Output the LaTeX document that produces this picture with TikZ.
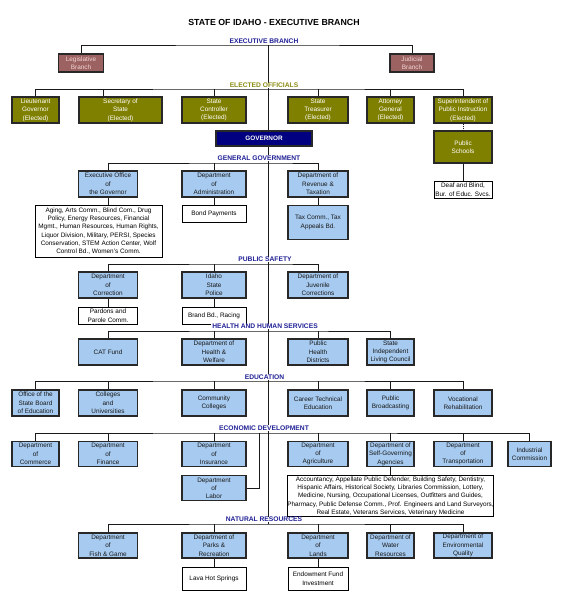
\documentclass[tikz,border=0pt]{standalone}
\usepackage{fontspec}
\setmainfont{Liberation Sans}
\usetikzlibrary{positioning}

\definecolor{deptblue}{RGB}{166,202,240}
\definecolor{electolive}{RGB}{128,128,0}
\definecolor{rosy}{RGB}{156,98,98}
\definecolor{rosytext}{RGB}{245,214,214}
\definecolor{govnavy}{RGB}{0,0,128}
\definecolor{hdrblue}{RGB}{32,32,150}
\definecolor{hdrolive}{RGB}{140,140,20}
\definecolor{boxline}{RGB}{40,40,40}

\tikzset{
  sz/.style 2 args={minimum width=#1pt, minimum height=#2pt},
  box/.style={draw=boxline, line width=1.3pt, align=center, inner sep=0pt,
    font=\fontsize{6.4}{8.4}\selectfont},
  dept/.style={box, fill=deptblue, text=black!90},
  elect/.style={box, fill=electolive, text=white},
  branch/.style={box, fill=rosy, text=rosytext},
  gov/.style={box, fill=govnavy, text=white, font=\bfseries\fontsize{6.4}{8.4}\selectfont},
  sub/.style={draw=black, line width=1pt, fill=white, align=center, inner sep=0pt,
    font=\fontsize{6.4}{8.3}\selectfont},
  hdr/.style={fill=white, inner xsep=1pt, inner ysep=0.3pt, text=hdrblue,
    font=\bfseries\fontsize{6.7}{8}\selectfont},
  link/.style={line width=0.8pt, draw=black!90},
}

\begin{document}
\begin{tikzpicture}[x=1pt, y=-1pt]
    \useasboundingbox (0,0) rectangle (561,600);

    \node[font=\bfseries\fontsize{8.8}{10}\selectfont] (title) at (274,22) {STATE OF IDAHO - EXECUTIVE BRANCH};

    \node[branch, sz={45}{18}] (leg) at (81,63) {Legislative\\Branch};
    \node[branch, sz={44}{18}] (jud) at (412,63) {Judicial\\Branch};

    % elected officials
    \node[elect, sz={47}{26}] (ltg) at (35.5,110) {Lieutenant\\Governor\\(Elected)};
    \node[elect, sz={83}{26}] (sos) at (120.5,110) {Secretary of\\State\\(Elected)};
    \node[elect, sz={64}{26}] (ctl) at (214,110) {State\\Controller\\(Elected)};
    \node[elect, sz={60}{26}] (trs) at (318,110) {State\\Treasurer\\(Elected)};
    \node[elect, sz={47}{26}] (ag) at (390.5,110) {Attorney\\General\\(Elected)};
    \node[elect, sz={58}{26}] (sup) at (463,110) {Superintendent of\\Public Instruction\\(Elected)};

    \node[gov, sz={96}{15}] (gov) at (264,138.5) {GOVERNOR};
    \node[elect, sz={58}{32}] (pubs) at (463,147) {Public\\Schools};
    \node[sub, sz={58}{17}, below=17pt of pubs] (deaf) {Deaf and Blind,\\Bur. of Educ. Svcs.};

    % general government
    \node[dept, sz={59}{26}] (eog) at (108,184) {Executive Office\\of\\the Governor};
    \node[dept, sz={64}{26}] (adm) at (214,184) {Department\\of\\Administration};
    \node[dept, sz={60}{26}] (rev) at (318,184) {Department of\\Revenue \&\\Taxation};
    \node[sub, sz={127}{52}, below=7pt of eog, xshift=-9.5pt] (aging)
    {Aging, Arts Comm., Blind Com., Drug\\Policy, Energy Resources, Financial\\Mgmt., Human Resources, Human Rights,\\Liquor Division, Military, PERSI, Species\\Conservation, STEM Action Center, Wolf\\Control Bd., Women's Comm.};
    \node[sub, sz={64}{17}, below=7pt of adm] (bond) {Bond Payments};
    \node[dept, sz={60}{34}, below=7pt of rev] (tax) {Tax Comm., Tax\\Appeals Bd.};

    % public safety
    \node[dept, sz={59}{26}] (cor) at (108,285) {Department\\of\\Correction};
    \node[dept, sz={64}{26}] (isp) at (214,285) {Idaho\\State\\Police};
    \node[dept, sz={60}{26}] (juv) at (318,285) {Department of\\Juvenile\\Corrections};
    \node[sub, sz={59}{17}, below=8pt of cor] (pard) {Pardons and\\Parole Comm.};
    \node[sub, sz={64}{17}, below=8pt of isp] (brand) {Brand Bd., Racing};

    % health and human services
    \node[dept, sz={59}{26}] (cat) at (108,352) {CAT Fund};
    \node[dept, sz={64}{26}] (hw) at (214,352) {Department of\\Health \&\\Welfare};
    \node[dept, sz={60}{26}] (phd) at (318,352) {Public\\Health\\Districts};
    \node[dept, sz={47}{26}] (silc) at (390.5,352) {State\\Independent\\Living Council};

    % education
    \node[dept, sz={47}{26}] (osbe) at (35.5,403) {Office of the\\State Board\\of Education};
    \node[dept, sz={59}{26}] (col) at (108,403) {Colleges\\and\\Universities};
    \node[dept, sz={64}{26}] (cc) at (214,403) {Community\\Colleges};
    \node[dept, sz={60}{26}] (cte) at (318,403) {Career Technical\\Education};
    \node[dept, sz={47}{26}] (pb) at (390.5,403) {Public\\Broadcasting};
    \node[dept, sz={58}{26}] (vr) at (463,403) {Vocational\\Rehabilitation};

    % economic development
    \node[dept, sz={47}{25}] (com) at (35.5,454) {Department\\of\\Commerce};
    \node[dept, sz={59}{25}] (fin) at (108,454) {Department\\of\\Finance};
    \node[dept, sz={64}{25}] (ins) at (214,454) {Department\\of\\Insurance};
    \node[dept, sz={60}{25}] (agr) at (318,454) {Department\\of\\Agriculture};
    \node[dept, sz={47}{25}] (sga) at (390.5,454) {Department of\\Self-Governing\\Agencies};
    \node[dept, sz={58}{25}] (trn) at (463,454) {Department\\of\\Transportation};
    \node[dept, sz={43}{25}] (ind) at (529.5,454) {Industrial\\Commission};
    \node[dept, sz={64}{25}, below=8pt of ins] (lab) {Department\\of\\Labor};
    \node[sub, sz={204}{41}, below=8pt of sga] (sgsub)
    {Accountancy, Appellate Public Defender, Building Safety, Dentistry,\\Hispanic Affairs, Historical Society, Libraries Commission, Lottery,\\Medicine, Nursing, Occupational Licenses, Outfitters and Guides,\\Pharmacy, Public Defense Comm., Prof. Engineers and Land Surveyors,\\Real Estate, Veterans Services, Veterinary Medicine};

    % natural resources
    \node[dept, sz={59}{25}] (fg) at (108,545.5) {Department\\of\\Fish \& Game};
    \node[dept, sz={64}{25}] (par) at (214,545.5) {Department of\\Parks \&\\Recreation};
    \node[dept, sz={60}{25}] (lan) at (318,545.5) {Department\\of\\Lands};
    \node[dept, sz={47}{25}] (wat) at (390.5,545.5) {Department of\\Water\\Resources};
    \node[dept, sz={58}{25}] (deq) at (463,545.5) {Department of\\Environmental\\Quality};
    \node[sub, sz={64}{23}, below=8pt of par] (lava) {Lava Hot Springs};
    \node[sub, sz={60}{23}, below=8pt of lan] (endow) {Endowment Fund\\Investment};

    \coordinate (bEB) at (268,45);
    \coordinate (bEO) at (268,89);
    \coordinate (bGG) at (268,163);
    \coordinate (bPS) at (268,264);
    \coordinate (bHHS) at (268,331);
    \coordinate (bEDU) at (268,381);
    \coordinate (bECO) at (268,433);
    \coordinate (bLab) at (259,433);
    \coordinate (bNR) at (268,524);
    \coordinate (sosT) at ([xshift=-17.5pt]sos.north);

    \draw[link] (leg.north) |- (bEB) -| (jud.north);
    \draw[link] (bEB) -- (bEB |- gov.north);
    \draw[link] (gov.south -| bEB) -- (bNR);

    \draw[link] (ltg.north) |- (bEO) -| (sup.north);
    \draw[link] (sosT) -- (sosT |- bEO);
    \foreach \n in {ctl,trs,ag} \draw[link] (\n.north) -- (\n.north |- bEO);
    \draw[link, dash pattern=on 1pt off 1pt] (sup.south) -- (pubs.north);
    \draw[link] (pubs.south) -- (deaf.north);

    \draw[link] (eog.north) |- (bGG) -| (rev.north);
    \draw[link] (adm.north) -- (adm.north |- bGG);
    \draw[link] (eog.south) -- (eog.south |- aging.north);
    \draw[link] (adm.south) -- (bond.north);
    \draw[link] (rev.south) -- (tax.north);

    \draw[link] (cor.north) |- (bPS) -| (juv.north);
    \draw[link] (isp.north) -- (isp.north |- bPS);
    \draw[link] (cor.south) -- (pard.north);
    \draw[link] (isp.south) -- (brand.north);

    \draw[link] (cat.north) |- (bHHS) -| (silc.north);
    \foreach \n in {hw,phd} \draw[link] (\n.north) -- (\n.north |- bHHS);

    \draw[link] (osbe.north) |- (bEDU) -| (vr.north);
    \foreach \n in {col,cc,cte,pb} \draw[link] (\n.north) -- (\n.north |- bEDU);

    \draw[link] (com.north) |- (bECO) -| (ind.north);
    \foreach \n in {fin,ins,agr,sga,trn} \draw[link] (\n.north) -- (\n.north |- bECO);
    \draw[link] (lab.east) -| (bLab);
    \draw[link] (sga.south) -- (sgsub.north);

    \draw[link] (fg.north) |- (bNR) -| (deq.north);
    \foreach \n in {par,lan,wat} \draw[link] (\n.north) -- (\n.north |- bNR);
    \draw[link] (par.south) -- (lava.north);
    \draw[link] (lan.south) -- (endow.north);

    % section headings
    \node[hdr] (hEB) at (264,41) {EXECUTIVE BRANCH};
    \node[hdr, text=hdrolive] (hEO) at (264,85.5) {ELECTED OFFICIALS};
    \node[hdr] (hGG) at (259,158) {GENERAL GOVERNMENT};
    \node[hdr] (hPS) at (265,259.5) {PUBLIC SAFETY};
    \node[hdr] (hHHS) at (265,326.5) {HEALTH AND HUMAN SERVICES};
    \node[hdr] (hEDU) at (264.5,377) {EDUCATION};
    \node[hdr] (hECO) at (264,428) {ECONOMIC DEVELOPMENT};
    \node[hdr] (hNR) at (264,519.5) {NATURAL RESOURCES};
\end{tikzpicture}
\end{document}
